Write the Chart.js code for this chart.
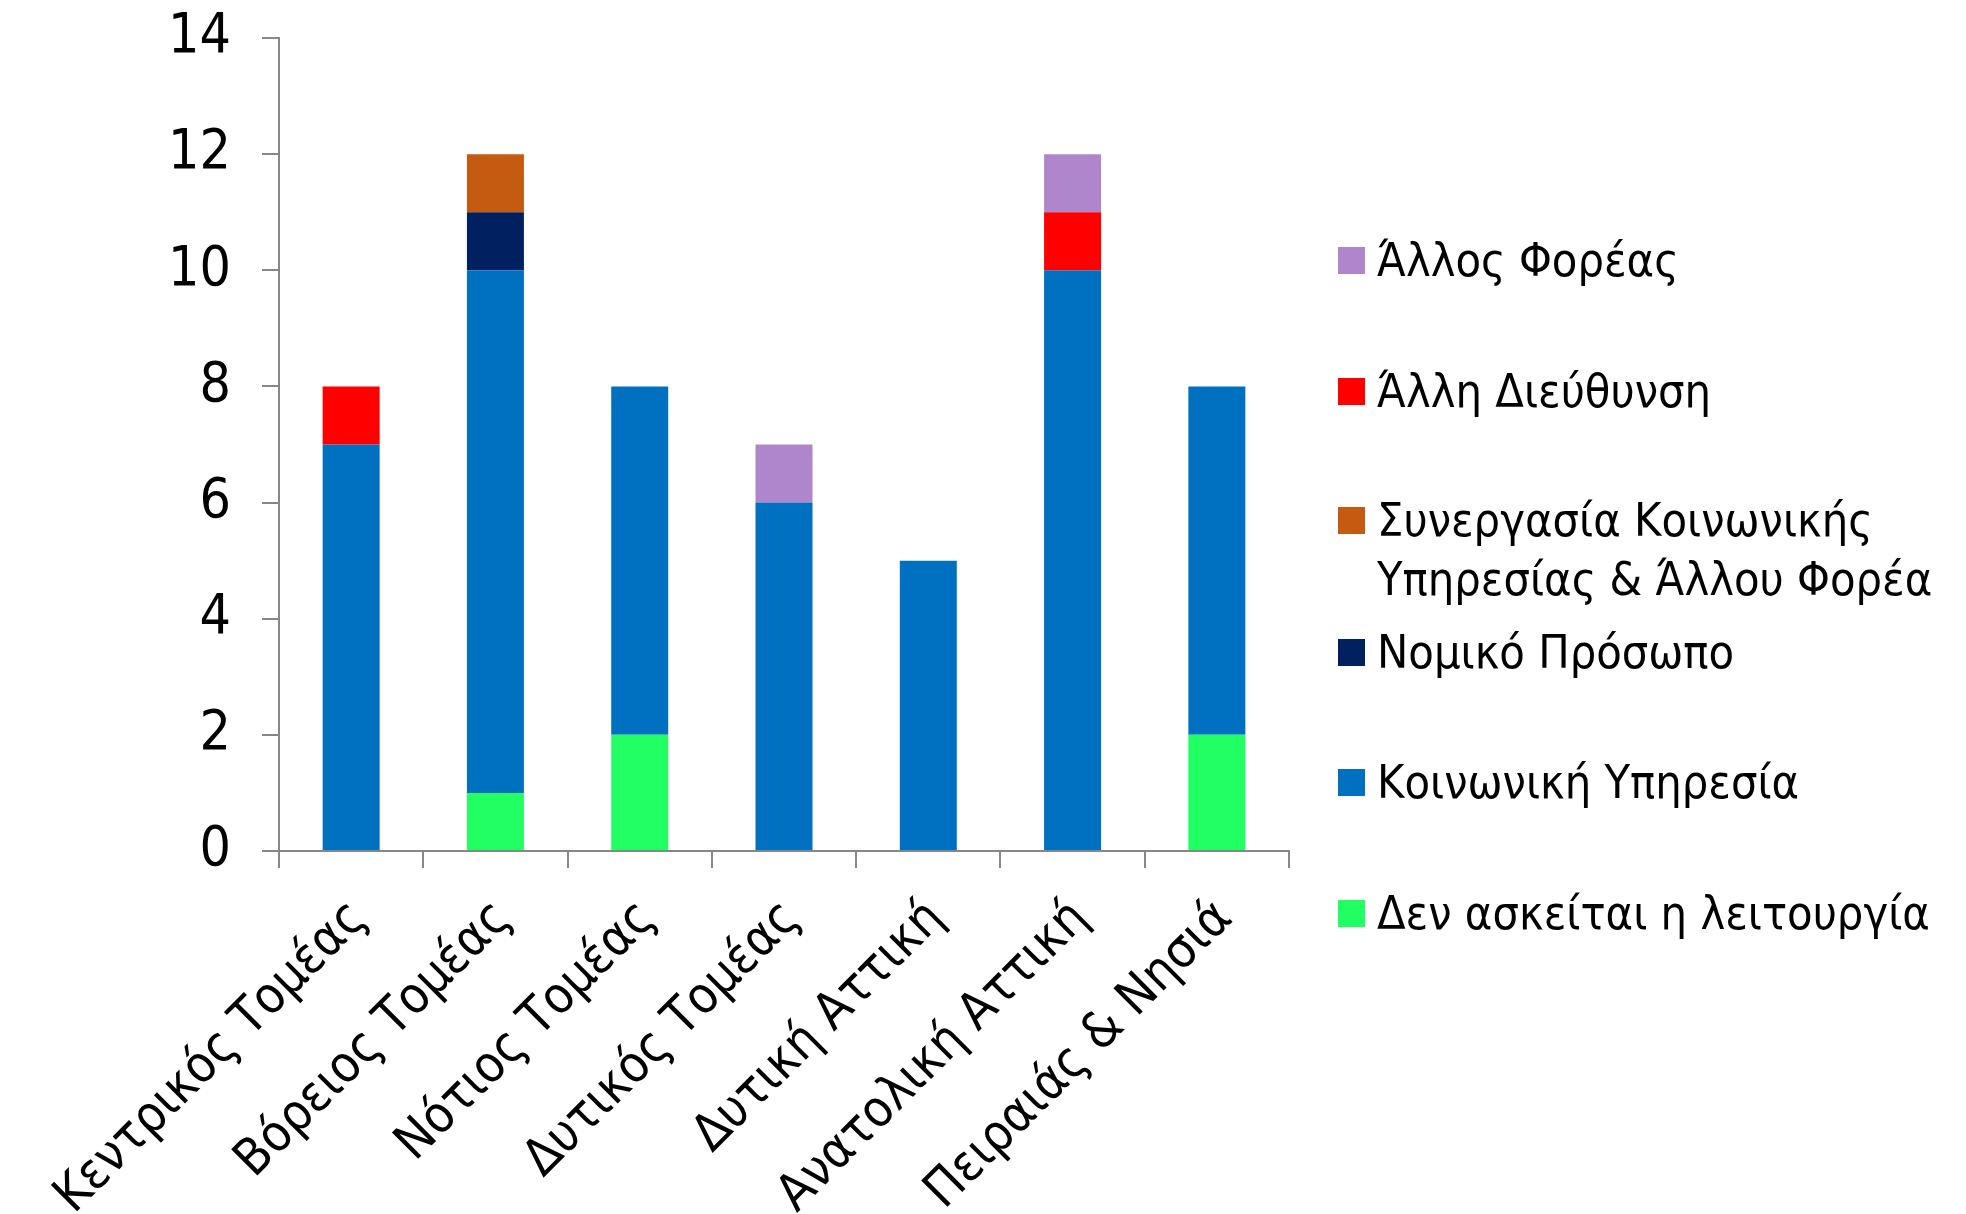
<!DOCTYPE html>
<html><head><meta charset="utf-8">
<script src="https://cdn.jsdelivr.net/npm/chart.js@4"></script>
<style>
html,body{margin:0;padding:0;background:#fff;}
#wrap{position:relative;width:1966px;height:1214px;overflow:hidden;}
canvas{position:absolute;left:0;top:0;}
.leg{position:absolute;left:1338px;font-family:'DejaVu Sans Condensed','DejaVu Sans',sans-serif;font-size:46.5px;line-height:59px;color:#000;}
.leg .sw{position:absolute;left:0;width:27px;height:27px;}
.leg .tx{position:absolute;left:39px;white-space:nowrap;}
</style></head>
<body><div id="wrap"><canvas id="c" width="1966" height="1214"></canvas><div id="legend"></div></div>
<script>
const categories = ['Κεντρικός Τομέας','Βόρειος Τομέας','Νότιος Τομέας','Δυτικός Τομέας','Δυτική Αττική','Ανατολική Αττική','Πειραιάς & Νησιά'];
const seriesNames = ['Δεν ασκείται η λειτουργία','Κοινωνική Υπηρεσία','Νομικό Πρόσωπο','Συνεργασία Κοινωνικής\nΥπηρεσίας & Άλλου Φορέα','Άλλη Διεύθυνση','Άλλος Φορέας'];
const notPerformed     = [0,1,2,0,0,0,2];
const socialService    = [7,9,6,6,5,10,6];
const legalEntity      = [0,1,0,0,0,0,0];
const cooperation      = [0,1,0,0,0,0,0];
const otherDirectorate = [1,0,0,0,0,1,0];
const otherBody        = [0,0,0,1,0,1,0];
const seriesColors = ['#21FF63','#0070C0','#002060','#C55A11','#FF0000','#AF85CC'];
const yTickMin = 0, yTickMax = 14, yTickStep = 2;

const FONT = "'DejaVu Sans Condensed','DejaVu Sans',sans-serif";
const seriesValues = [notPerformed, socialService, legalEntity, cooperation, otherDirectorate, otherBody];
const datasets = seriesValues.map((v,i)=>({
  label: seriesNames[i], data: v, backgroundColor: seriesColors[i], borderWidth: 0,
  categoryPercentage: 1.0, barPercentage: 0.395
}));

new Chart(document.getElementById('c'), {
  type: 'bar',
  data: { labels: categories, datasets },
  options: {
    responsive: false, devicePixelRatio: 1, animation: false,
    layout: { padding: { left: 0, right: 677, top: 38, bottom: 0 } },
    plugins: { legend: { display: false }, tooltip: { enabled: false } },
    scales: {
      x: {
        stacked: true,
        grid: { display: true, drawOnChartArea: false, drawTicks: true, tickLength: 17, color: '#878787', lineWidth: 2, offset: true },
        border: { display: true, color: '#878787', width: 2 },
        ticks: { autoSkip: false, minRotation: 45, maxRotation: 45, color: '#000', padding: 21, labelOffset: 8, font: { family: FONT, size: 51 } },
        afterFit: s => { s.height = 363; }
      },
      y: {
        stacked: true, min: yTickMin, max: yTickMax,
        grid: { display: true, drawOnChartArea: false, drawTicks: true, tickLength: 17, color: '#878787', lineWidth: 2 },
        border: { display: true, color: '#878787', width: 2 },
        ticks: { stepSize: yTickStep, color: '#000', padding: 31, font: { family: FONT, size: 55 } },
        afterFit: s => { s.width = 279; s.paddingTop = 0; s.paddingBottom = 0; }
      }
    }
  }
});

// legend (reverse order, like the reference)
const legendCenters = [913, 782, 652, 520, 391, 260];
const lg = document.getElementById('legend');
seriesNames.forEach((name,i)=>{
  const d = document.createElement('div'); d.className='leg';
  d.style.top = (legendCenters[i]-29.5)+'px';
  const sw = document.createElement('div'); sw.className='sw'; sw.style.background = seriesColors[i]; sw.style.top='16px';
  const tx = document.createElement('div'); tx.className='tx';
  name.split('\n').forEach((ln,k)=>{ if(k) tx.appendChild(document.createElement('br')); tx.appendChild(document.createTextNode(ln)); });
  d.appendChild(sw); d.appendChild(tx); lg.appendChild(d);
});
</script></body></html>
